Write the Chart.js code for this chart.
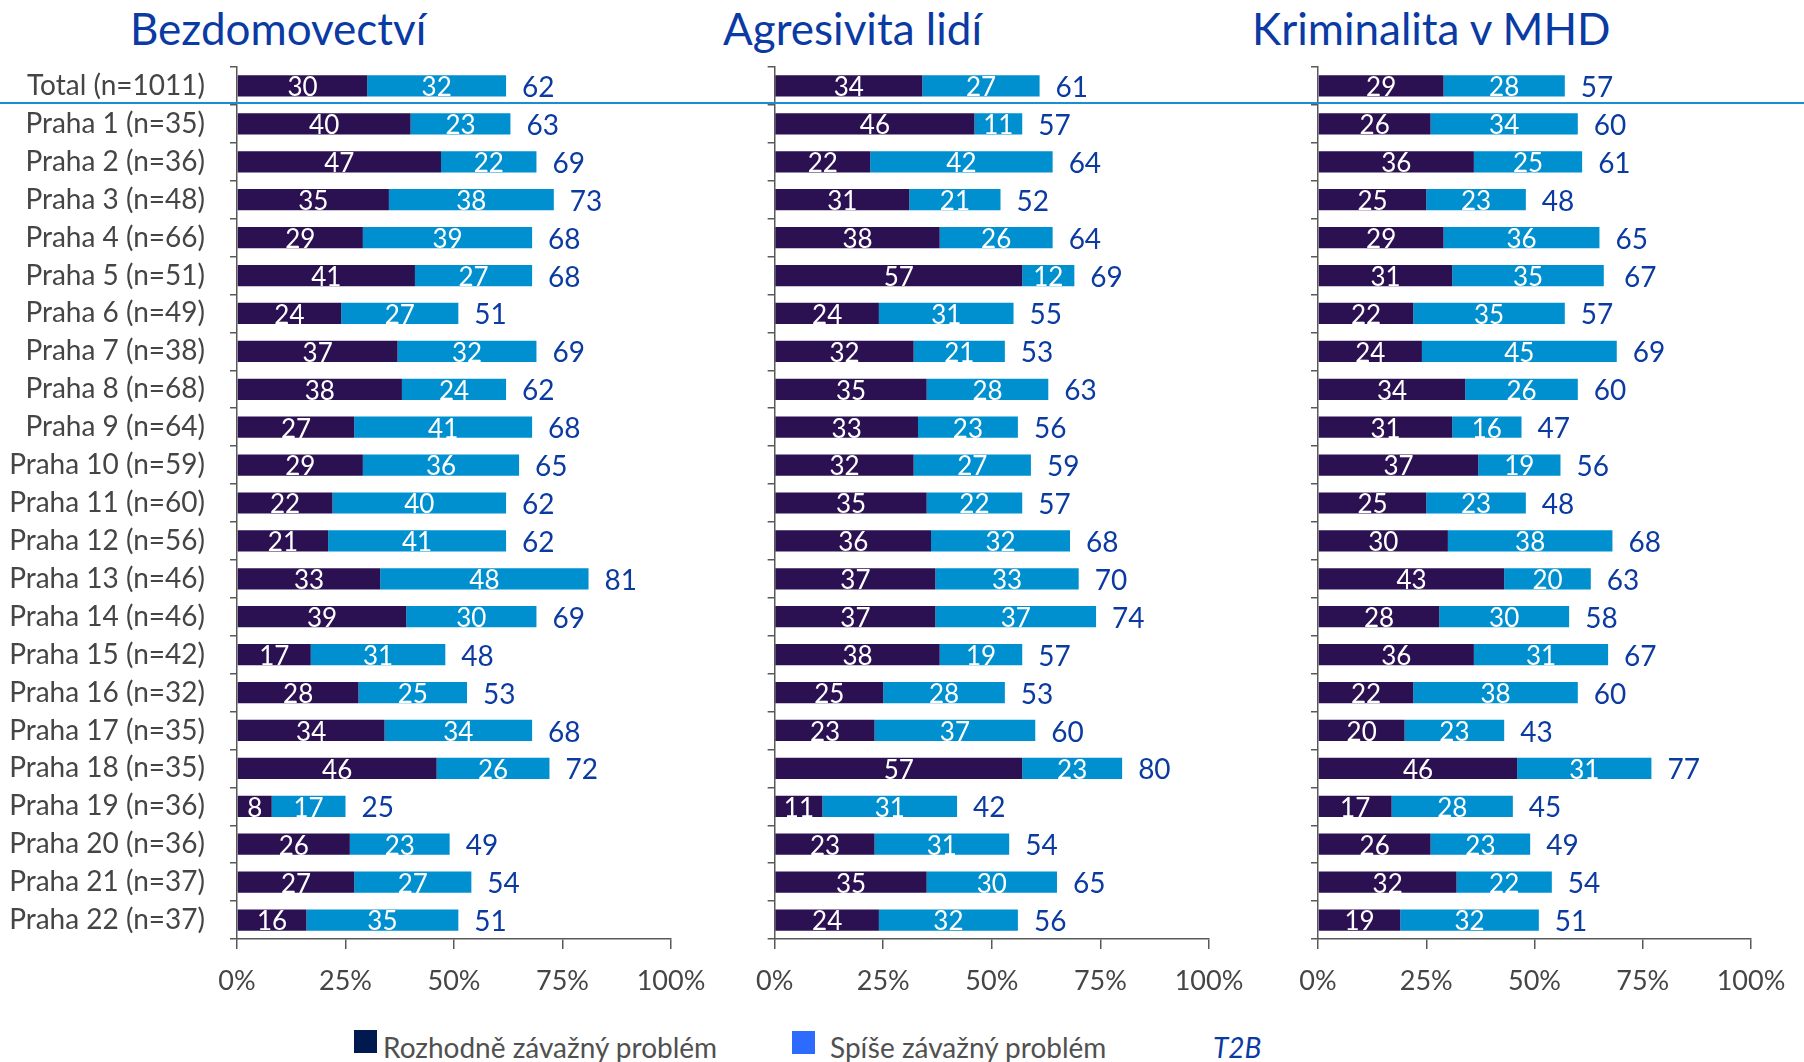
<!DOCTYPE html>
<html>
<head>
<meta charset="utf-8">
<script src="https://cdn.jsdelivr.net/npm/chart.js@4"></script>
<style>
    body { margin: 0; background: #fff; }
    #page { position: relative; width: 1804px; height: 1062px; overflow: hidden; font-family: 'Lato', sans-serif; }
    canvas { position: absolute; top: 0; }
    .title { position: absolute; top: 6px; font-size: 44px; line-height: 44px; color: #0a3aa3; white-space: nowrap; }
    .sq { position: absolute; width: 23px; height: 23px; }
    .leg { position: absolute; top: 1033px; font-size: 28px; line-height: 28px; color: #505050; white-space: nowrap; }
</style>
</head>
<body>
<div id="page">
    <div class="title" style="left:130px">Bezdomovectví</div>
    <div class="title" style="left:723px">Agresivita lidí</div>
    <div class="title" style="left:1252px">Kriminalita v MHD</div>

    <canvas id="chart1" width="740" height="1010" style="left:0"></canvas>
    <canvas id="chart2" width="540" height="1010" style="left:740px"></canvas>
    <canvas id="chart3" width="524" height="1010" style="left:1280px"></canvas>

    <div class="sq" style="left:354px; top:1030px; background:#001a4f"></div>
    <div class="leg" style="left:383px">Rozhodně závažný problém</div>
    <div class="sq" style="left:792px; top:1031px; background:#2d6bff"></div>
    <div class="leg" style="left:830px">Spíše závažný problém</div>
    <div class="leg" style="left:1213px; font-style:italic; color:#0a3aa3">T2B</div>
</div>

<script>
const categories = [
    'Total (n=1011)', 'Praha 1 (n=35)', 'Praha 2 (n=36)', 'Praha 3 (n=48)', 'Praha 4 (n=66)',
    'Praha 5 (n=51)', 'Praha 6 (n=49)', 'Praha 7 (n=38)', 'Praha 8 (n=68)', 'Praha 9 (n=64)',
    'Praha 10 (n=59)', 'Praha 11 (n=60)', 'Praha 12 (n=56)', 'Praha 13 (n=46)', 'Praha 14 (n=46)',
    'Praha 15 (n=42)', 'Praha 16 (n=32)', 'Praha 17 (n=35)', 'Praha 18 (n=35)', 'Praha 19 (n=36)',
    'Praha 20 (n=36)', 'Praha 21 (n=37)', 'Praha 22 (n=37)'
];

const seriesNames = ['Rozhodně závažný problém', 'Spíše závažný problém'];
const xTicks = [0, 25, 50, 75, 100];

// Bezdomovectví
const homelessStrong = [30, 40, 47, 35, 29, 41, 24, 37, 38, 27, 29, 22, 21, 33, 39, 17, 28, 34, 46, 8, 26, 27, 16];
const homelessRather = [32, 23, 22, 38, 39, 27, 27, 32, 24, 41, 36, 40, 41, 48, 30, 31, 25, 34, 26, 17, 23, 27, 35];
const homelessT2B = [62, 63, 69, 73, 68, 68, 51, 69, 62, 68, 65, 62, 62, 81, 69, 48, 53, 68, 72, 25, 49, 54, 51];

// Agresivita lidí
const aggressionStrong = [34, 46, 22, 31, 38, 57, 24, 32, 35, 33, 32, 35, 36, 37, 37, 38, 25, 23, 57, 11, 23, 35, 24];
const aggressionRather = [27, 11, 42, 21, 26, 12, 31, 21, 28, 23, 27, 22, 32, 33, 37, 19, 28, 37, 23, 31, 31, 30, 32];
const aggressionT2B = [61, 57, 64, 52, 64, 69, 55, 53, 63, 56, 59, 57, 68, 70, 74, 57, 53, 60, 80, 42, 54, 65, 56];

// Kriminalita v MHD
const crimeStrong = [29, 26, 36, 25, 29, 31, 22, 24, 34, 31, 37, 25, 30, 43, 28, 36, 22, 20, 46, 17, 26, 32, 19];
const crimeRather = [28, 34, 25, 23, 36, 35, 35, 45, 26, 16, 19, 23, 38, 20, 30, 31, 38, 23, 31, 28, 23, 22, 32];
const crimeT2B = [57, 60, 61, 48, 65, 67, 57, 69, 60, 47, 56, 48, 68, 63, 58, 67, 60, 43, 77, 45, 49, 54, 51];

Chart.defaults.font.family = 'Lato';
Chart.defaults.color = '#454545';

const axisColor = '#595959';

// white numbers inside bars, blue T2B at the bar end, and the separator line
const labelPlugin = {
    id: 'barLabels',
    afterDatasetsDraw(chart, args, opts) {
        const ctx = chart.ctx;
        ctx.save();
        ctx.textBaseline = 'middle';
        ctx.font = '26px Lato';
        ctx.fillStyle = '#ffffff';
        ctx.textAlign = 'center';
        chart.data.datasets.forEach((ds, di) => {
            chart.getDatasetMeta(di).data.forEach((bar, i) => {
                ctx.fillText(ds.data[i], (bar.x + bar.base) / 2, bar.y + 2);
            });
        });

        const xScale = chart.scales.x;
        const yScale = chart.scales.y;
        ctx.font = '28px Lato';
        ctx.fillStyle = '#0b3aa0';
        ctx.textAlign = 'left';
        opts.totals.forEach((t, i) => {
            ctx.fillText(t, xScale.getPixelForValue(t) + 16, yScale.getPixelForValue(i) + 2);
        });

        const lineY = (yScale.getPixelForValue(0) + yScale.getPixelForValue(1)) / 2 - 2;
        ctx.strokeStyle = '#1a8ed3';
        ctx.lineWidth = 2;
        ctx.beginPath();
        ctx.moveTo(0, lineY);
        ctx.lineTo(chart.width, lineY);
        ctx.stroke();
        ctx.restore();
    }
};

function makeChart(id, strong, rather, totals, axisWidth, rightPad, showLabels) {
    return new Chart(document.getElementById(id), {
        type: 'bar',
        data: {
            labels: categories,
            datasets: [
                { label: seriesNames[0], data: strong, backgroundColor: '#2b1052' },
                { label: seriesNames[1], data: rather, backgroundColor: '#0090cf' }
            ]
        },
        options: {
            indexAxis: 'y',
            responsive: false,
            animation: false,
            devicePixelRatio: 1,
            layout: { padding: { top: 67, right: rightPad, bottom: 0, left: 0 } },
            datasets: { bar: { categoryPercentage: 1, barPercentage: 0.56 } },
            plugins: {
                legend: { display: false },
                tooltip: { enabled: false },
                barLabels: { totals: totals }
            },
            scales: {
                x: {
                    stacked: true,
                    min: 0,
                    max: 100,
                    afterBuildTicks: s => { s.ticks = xTicks.map(v => ({ value: v })); },
                    afterFit: s => { s.height = 71; },
                    ticks: {
                        callback: v => v + '%',
                        font: { size: 27 },
                        color: '#454545',
                        padding: 16
                    },
                    grid: { drawOnChartArea: false, tickLength: 10, color: axisColor, lineWidth: 1.5 },
                    border: { color: axisColor, width: 1.5 }
                },
                y: {
                    stacked: true,
                    offset: true,
                    afterFit: s => { s.width = axisWidth; },
                    ticks: {
                        display: showLabels,
                        autoSkip: false,
                        font: { size: 28 },
                        color: '#454545',
                        padding: 25
                    },
                    grid: { offset: true, drawOnChartArea: false, tickLength: 7, color: axisColor, lineWidth: 1.5 },
                    border: { color: axisColor, width: 1.5 }
                }
            }
        },
        plugins: [labelPlugin]
    });
}

makeChart('chart1', homelessStrong, homelessRather, homelessT2B, 237, 69, true);
makeChart('chart2', aggressionStrong, aggressionRather, aggressionT2B, 34, 71, false);
makeChart('chart3', crimeStrong, crimeRather, crimeT2B, 38, 53, false);
</script>
</body>
</html>
